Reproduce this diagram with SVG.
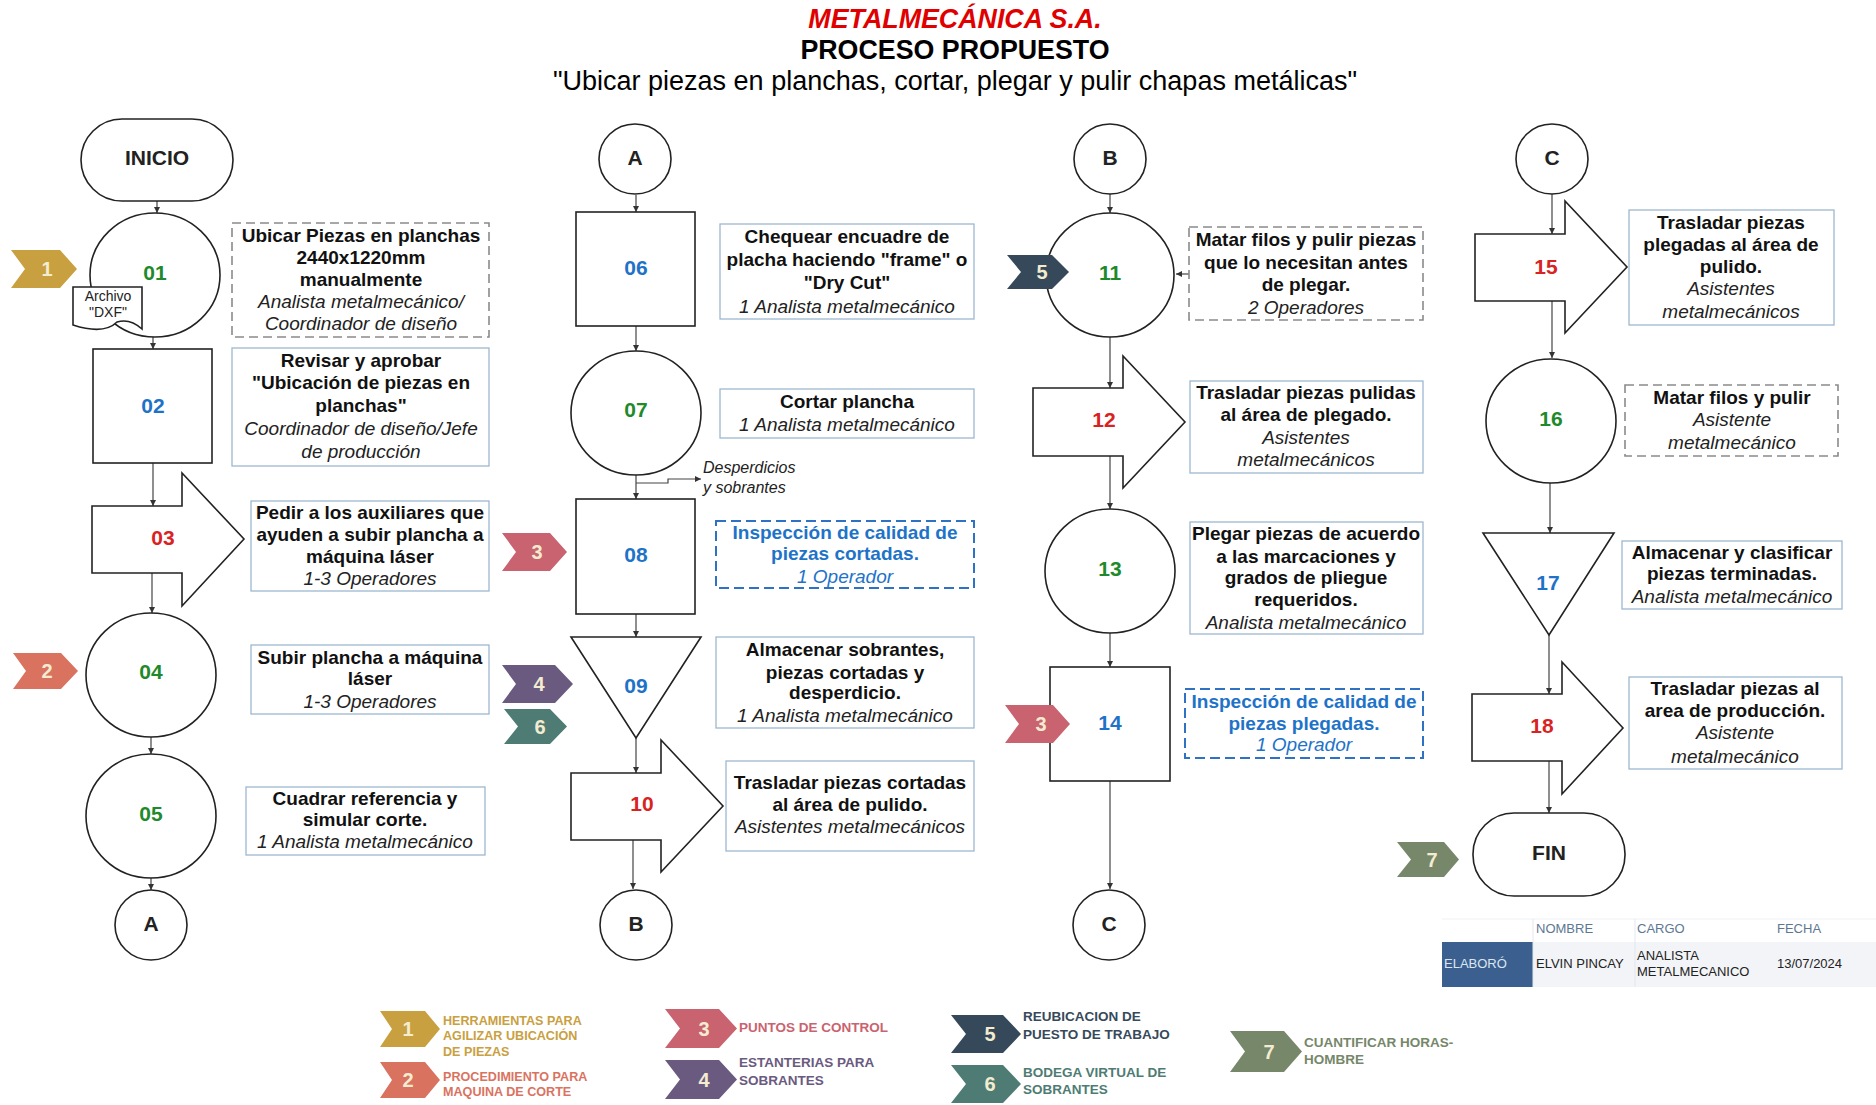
<svg xmlns="http://www.w3.org/2000/svg" width="1876" height="1105" viewBox="0 0 1876 1105">
<style>
.shape{fill:#fff;stroke:#222;stroke-width:1.6}
.num{font-family:"Liberation Sans",Arial,sans-serif;font-weight:bold;font-size:21px;text-anchor:middle;dominant-baseline:central}
.g{fill:#1f8a2b}.b{fill:#1e73c8}.r{fill:#d92323}.k{fill:#222}
.box{fill:#fff;stroke:#9db8cf;stroke-width:1.3}
.dgray{fill:#fff;stroke:#8a8a8a;stroke-width:1.6;stroke-dasharray:9 5}
.dblue{fill:#fff;stroke:#2f72c4;stroke-width:2;stroke-dasharray:10 5}
.t{font-family:"Liberation Sans",Arial,sans-serif;font-size:19px;text-anchor:middle;dominant-baseline:central;fill:#111}
.bd{font-weight:bold}
.it{font-style:italic;fill:#222}
.bl{fill:#1e73c8}
.conn{fill:none;stroke:#444;stroke-width:1.2;marker-end:url(#ah)}
.cn{font-family:"Liberation Sans",Arial,sans-serif;font-weight:bold;font-size:20px;fill:#f3ecd0;text-anchor:middle;dominant-baseline:central}
.lg{font-family:"Liberation Sans",Arial,sans-serif;font-weight:bold;font-size:13.5px;dominant-baseline:central}
.lgs{font-size:12.6px}
.tb{font-family:"Liberation Sans",Arial,sans-serif;font-size:13px;dominant-baseline:central}
</style>
<defs>
<marker id="ah" viewBox="0 0 6 6" refX="6" refY="3" markerWidth="6" markerHeight="6" markerUnits="userSpaceOnUse" orient="auto">
<path d="M0,0 L6,3 L0,6 Z" fill="#333"/>
</marker>
</defs>
<rect width="1876" height="1105" fill="#fff"/>

<!-- Title -->
<g id="title">
<text x="955" y="19" font-family="Liberation Sans,Arial,sans-serif" font-size="26.8" font-weight="bold" font-style="italic" fill="#e00000" text-anchor="middle" dominant-baseline="central">METALMECÁNICA S.A.</text>
<text x="955" y="50" font-family="Liberation Sans,Arial,sans-serif" font-size="26.8" font-weight="bold" fill="#000" text-anchor="middle" dominant-baseline="central">PROCESO PROPUESTO</text>
<text x="955" y="81" font-family="Liberation Sans,Arial,sans-serif" font-size="27" fill="#000" text-anchor="middle" dominant-baseline="central">"Ubicar piezas en planchas, cortar, plegar y pulir chapas metálicas"</text>
</g>

<!-- Connectors -->
<g id="connectors">
<path class="conn" d="M157,201 V213"/>
<path class="conn" d="M153,337 V349"/>
<path class="conn" d="M153,463 V506"/>
<path class="conn" d="M152,573 V613"/>
<path class="conn" d="M151,736 V754"/>
<path class="conn" d="M151,877 V890"/>
<path class="conn" d="M636,195 V212"/>
<path class="conn" d="M636,326 V351"/>
<path class="conn" d="M636,475 V499"/>
<path class="conn" d="M636,483 H668 V479 H701"/>
<path class="conn" d="M636,614 V637"/>
<path class="conn" d="M636,738 V773"/>
<path class="conn" d="M633,840 V889"/>
<path class="conn" d="M1110,194 V213"/>
<path class="conn" d="M1189,274 H1176"/>
<path class="conn" d="M1110,337 V388"/>
<path class="conn" d="M1110,456 V509"/>
<path class="conn" d="M1110,633 V667"/>
<path class="conn" d="M1110,781 V889"/>
<path class="conn" d="M1552,194 V234"/>
<path class="conn" d="M1552,301 V358"/>
<path class="conn" d="M1550,483 V533"/>
<path class="conn" d="M1549,635 V694"/>
<path class="conn" d="M1549,761 V813"/>
</g>

<!-- Column 1 -->
<g id="inicio">
<rect class="shape" x="81" y="119" width="152" height="82" rx="41"/>
<text class="num k" x="157" y="157">INICIO</text>
</g>
<g id="n01">
<ellipse class="shape" cx="155" cy="275" rx="65" ry="62"/>
<text class="num g" x="155" y="272">01</text>
<path class="shape" d="M73,287 H142 V329 Q130,318 117,322 Q104,335 73,325 Z" stroke-width="1.3"/>
<text x="108" y="296" font-family="Liberation Sans,Arial,sans-serif" font-size="14" fill="#222" text-anchor="middle" dominant-baseline="central">Archivo</text>
<text x="108" y="312" font-family="Liberation Sans,Arial,sans-serif" font-size="14" fill="#222" text-anchor="middle" dominant-baseline="central">"DXF"</text>
<polygon points="11,250 60,250 77,269 60,288 11,288 25,269" fill="#c9a040"/>
<text class="cn" x="47" y="269">1</text>
</g>
<g id="d01">
<rect class="dgray" x="232" y="223" width="257" height="114"/>
<text class="t bd" x="361" y="235">Ubicar Piezas en planchas</text>
<text class="t bd" x="361" y="257">2440x1220mm</text>
<text class="t bd" x="361" y="279">manualmente</text>
<text class="t it" x="361" y="301">Analista metalmecánico/</text>
<text class="t it" x="361" y="323">Coordinador de diseño</text>
</g>
<g id="n02">
<rect class="shape" x="93" y="349" width="119" height="114"/>
<text class="num b" x="153" y="405">02</text>
</g>
<g id="d02">
<rect class="box" x="232" y="348" width="257" height="118"/>
<text class="t bd" x="361" y="360">Revisar y aprobar</text>
<text class="t bd" x="361" y="382">"Ubicación de piezas en</text>
<text class="t bd" x="361" y="405">planchas"</text>
<text class="t it" x="361" y="428">Coordinador de diseño/Jefe</text>
<text class="t it" x="361" y="451">de producción</text>
</g>
<g id="n03">
<polygon class="shape" points="92,506 182,506 182,473 244,539 182,606 182,573 92,573"/>
<text class="num r" x="163" y="537">03</text>
</g>
<g id="d03">
<rect class="box" x="251" y="501" width="238" height="90"/>
<text class="t bd" x="370" y="512">Pedir a los auxiliares que</text>
<text class="t bd" x="370" y="534">ayuden a subir plancha a</text>
<text class="t bd" x="370" y="556">máquina láser</text>
<text class="t it" x="370" y="578">1-3 Operadores</text>
</g>
<g id="n04">
<ellipse class="shape" cx="151" cy="675" rx="65" ry="62"/>
<text class="num g" x="151" y="671">04</text>
<polygon points="13,653 61,653 78,671 61,689 13,689 26,671" fill="#d9735f"/>
<text class="cn" x="47" y="671">2</text>
</g>
<g id="d04">
<rect class="box" x="251" y="645" width="238" height="69"/>
<text class="t bd" x="370" y="657">Subir plancha a máquina</text>
<text class="t bd" x="370" y="678">láser</text>
<text class="t it" x="370" y="701">1-3 Operadores</text>
</g>
<g id="n05">
<ellipse class="shape" cx="151" cy="816" rx="65" ry="62"/>
<text class="num g" x="151" y="813">05</text>
</g>
<g id="d05">
<rect class="box" x="246" y="787" width="239" height="68"/>
<text class="t bd" x="365" y="798">Cuadrar referencia y</text>
<text class="t bd" x="365" y="819">simular corte.</text>
<text class="t it" x="365" y="841">1 Analista metalmecánico</text>
</g>
<g id="a_out">
<ellipse class="shape" cx="151" cy="925" rx="36" ry="35"/>
<text class="num k" x="151" y="923">A</text>
</g>

<!-- Column 2 -->
<g id="a_in">
<ellipse class="shape" cx="635" cy="159" rx="36" ry="35"/>
<text class="num k" x="635" y="157">A</text>
</g>
<g id="n06">
<rect class="shape" x="576" y="212" width="119" height="114"/>
<text class="num b" x="636" y="267">06</text>
</g>
<g id="d06">
<rect class="box" x="720" y="224" width="254" height="95"/>
<text class="t bd" x="847" y="236">Chequear encuadre de</text>
<text class="t bd" x="847" y="259">placha haciendo "frame" o</text>
<text class="t bd" x="847" y="282">"Dry Cut"</text>
<text class="t it" x="847" y="306">1 Analista metalmecánico</text>
</g>
<g id="n07">
<ellipse class="shape" cx="636" cy="413" rx="65" ry="62"/>
<text class="num g" x="636" y="409">07</text>
<text x="703" y="467" font-family="Liberation Sans,Arial,sans-serif" font-size="16" font-style="italic" fill="#222" dominant-baseline="central">Desperdicios</text>
<text x="703" y="487" font-family="Liberation Sans,Arial,sans-serif" font-size="16" font-style="italic" fill="#222" dominant-baseline="central">y sobrantes</text>
</g>
<g id="d07">
<rect class="box" x="720" y="389" width="254" height="49"/>
<text class="t bd" x="847" y="401">Cortar plancha</text>
<text class="t it" x="847" y="424">1 Analista metalmecánico</text>
</g>
<g id="n08">
<rect class="shape" x="576" y="499" width="119" height="115"/>
<text class="num b" x="636" y="554">08</text>
<polygon points="502,533 550,533 567,552 550,571 502,571 516,552" fill="#c9636f"/>
<text class="cn" x="537" y="552">3</text>
</g>
<g id="d08">
<rect class="dblue" x="716" y="521" width="258" height="67"/>
<text class="t bd bl" x="845" y="532">Inspección de calidad de</text>
<text class="t bd bl" x="845" y="553">piezas cortadas.</text>
<text class="t it bl" x="845" y="576">1 Operador</text>
</g>
<g id="n09">
<polygon class="shape" points="571,637 701,637 636,738"/>
<text class="num b" x="636" y="685">09</text>
<polygon points="502,665 555,665 573,684 555,703 502,703 516,684" fill="#6a5a80"/>
<text class="cn" x="539" y="684">4</text>
<polygon points="504,709 550,709 567,726.5 550,744 504,744 518,726.5" fill="#4e7c74"/>
<text class="cn" x="540" y="726.5">6</text>
</g>
<g id="d09">
<rect class="box" x="716" y="637" width="258" height="91"/>
<text class="t bd" x="845" y="649">Almacenar sobrantes,</text>
<text class="t bd" x="845" y="672">piezas cortadas y</text>
<text class="t bd" x="845" y="692">desperdicio.</text>
<text class="t it" x="845" y="715">1 Analista metalmecánico</text>
</g>
<g id="n10">
<polygon class="shape" points="571,773 661,773 661,740 723,806 661,872 661,840 571,840"/>
<text class="num r" x="642" y="803">10</text>
</g>
<g id="d10">
<rect class="box" x="726" y="761" width="248" height="90"/>
<text class="t bd" x="850" y="782">Trasladar piezas cortadas</text>
<text class="t bd" x="850" y="804">al área de pulido.</text>
<text class="t it" x="850" y="826">Asistentes metalmecánicos</text>
</g>
<g id="b_out">
<ellipse class="shape" cx="636" cy="925" rx="36" ry="35"/>
<text class="num k" x="636" y="923">B</text>
</g>

<!-- Column 3 -->
<g id="b_in">
<ellipse class="shape" cx="1110" cy="159" rx="36" ry="35"/>
<text class="num k" x="1110" y="157">B</text>
</g>
<g id="n11">
<ellipse class="shape" cx="1110" cy="275" rx="64" ry="62"/>
<text class="num g" x="1110" y="272">11</text>
<polygon points="1007,255 1052,255 1069,272 1052,289 1007,289 1021,272" fill="#36495a"/>
<text class="cn" x="1042" y="272">5</text>
</g>
<g id="d11">
<rect class="dgray" x="1189" y="227" width="234" height="93"/>
<text class="t bd" x="1306" y="239">Matar filos y pulir piezas</text>
<text class="t bd" x="1306" y="262">que lo necesitan antes</text>
<text class="t bd" x="1306" y="284">de plegar.</text>
<text class="t it" x="1306" y="307">2 Operadores</text>
</g>
<g id="n12">
<polygon class="shape" points="1033,388 1123,388 1123,356 1185,422 1123,488 1123,456 1033,456"/>
<text class="num r" x="1104" y="419">12</text>
</g>
<g id="d12">
<rect class="box" x="1190" y="381" width="233" height="92"/>
<text class="t bd" x="1306" y="392">Trasladar piezas pulidas</text>
<text class="t bd" x="1306" y="414">al área de plegado.</text>
<text class="t it" x="1306" y="437">Asistentes</text>
<text class="t it" x="1306" y="459">metalmecánicos</text>
</g>
<g id="n13">
<ellipse class="shape" cx="1110" cy="571" rx="65" ry="62"/>
<text class="num g" x="1110" y="568">13</text>
</g>
<g id="d13">
<rect class="box" x="1190" y="522" width="233" height="112"/>
<text class="t bd" x="1306" y="533">Plegar piezas de acuerdo</text>
<text class="t bd" x="1306" y="556">a las marcaciones y</text>
<text class="t bd" x="1306" y="577">grados de pliegue</text>
<text class="t bd" x="1306" y="599">requeridos.</text>
<text class="t it" x="1306" y="622">Analista metalmecánico</text>
</g>
<g id="n14">
<rect class="shape" x="1050" y="667" width="120" height="114"/>
<text class="num b" x="1110" y="722">14</text>
<polygon points="1005,705 1053,705 1070,724 1053,743 1005,743 1019,724" fill="#c9636f"/>
<text class="cn" x="1041" y="724">3</text>
</g>
<g id="d14">
<rect class="dblue" x="1185" y="689" width="238" height="69"/>
<text class="t bd bl" x="1304" y="701">Inspección de calidad de</text>
<text class="t bd bl" x="1304" y="723">piezas plegadas.</text>
<text class="t it bl" x="1304" y="744">1 Operador</text>
</g>
<g id="c_out">
<ellipse class="shape" cx="1109" cy="925" rx="36" ry="35"/>
<text class="num k" x="1109" y="923">C</text>
</g>

<!-- Column 4 -->
<g id="c_in">
<ellipse class="shape" cx="1552" cy="159" rx="36" ry="35"/>
<text class="num k" x="1552" y="157">C</text>
</g>
<g id="n15">
<polygon class="shape" points="1475,234 1565,234 1565,201 1627,267 1565,333 1565,301 1475,301"/>
<text class="num r" x="1546" y="266">15</text>
</g>
<g id="d15">
<rect class="box" x="1629" y="210" width="205" height="115"/>
<text class="t bd" x="1731" y="222">Trasladar piezas</text>
<text class="t bd" x="1731" y="244">plegadas al área de</text>
<text class="t bd" x="1731" y="266">pulido.</text>
<text class="t it" x="1731" y="288">Asistentes</text>
<text class="t it" x="1731" y="311">metalmecánicos</text>
</g>
<g id="n16">
<ellipse class="shape" cx="1551" cy="421" rx="65" ry="62"/>
<text class="num g" x="1551" y="418">16</text>
</g>
<g id="d16">
<rect class="dgray" x="1625" y="385" width="213" height="71"/>
<text class="t bd" x="1732" y="397">Matar filos y pulir</text>
<text class="t it" x="1732" y="419">Asistente</text>
<text class="t it" x="1732" y="442">metalmecánico</text>
</g>
<g id="n17">
<polygon class="shape" points="1483,533 1614,533 1549,635"/>
<text class="num b" x="1548" y="582">17</text>
</g>
<g id="d17">
<rect class="box" x="1622" y="541" width="220" height="68"/>
<text class="t bd" x="1732" y="552">Almacenar y clasificar</text>
<text class="t bd" x="1732" y="573">piezas terminadas.</text>
<text class="t it" x="1732" y="596">Analista metalmecánico</text>
</g>
<g id="n18">
<polygon class="shape" points="1472,694 1562,694 1562,662 1623,728 1562,794 1562,761 1472,761"/>
<text class="num r" x="1542" y="725">18</text>
</g>
<g id="d18">
<rect class="box" x="1629" y="677" width="213" height="92"/>
<text class="t bd" x="1735" y="688">Trasladar piezas al</text>
<text class="t bd" x="1735" y="710">area de producción.</text>
<text class="t it" x="1735" y="732">Asistente</text>
<text class="t it" x="1735" y="756">metalmecánico</text>
</g>
<g id="fin">
<rect class="shape" x="1473" y="813" width="152" height="83" rx="41"/>
<text class="num k" x="1549" y="852">FIN</text>
<polygon points="1397,842 1444,842 1459,859.5 1444,877 1397,877 1411,859.5" fill="#76876a"/>
<text class="cn" x="1432" y="859.5">7</text>
</g>

<!-- Table -->
<g id="table">
<rect x="1442" y="919" width="434" height="23" fill="#fff"/>
<line x1="1442" y1="919" x2="1876" y2="919" stroke="#eef1f4"/>
<rect x="1533" y="942" width="343" height="45" fill="#f2f4f7"/>
<rect x="1442" y="942" width="91" height="45" fill="#3b6090"/>
<line x1="1533" y1="919" x2="1533" y2="987" stroke="#e3e7ec"/>
<line x1="1635" y1="919" x2="1635" y2="987" stroke="#e3e7ec"/>
<text class="tb" x="1536" y="928" fill="#5d7793">NOMBRE</text>
<text class="tb" x="1637" y="928" fill="#5d7793">CARGO</text>
<text class="tb" x="1777" y="928" fill="#5d7793">FECHA</text>
<text class="tb" x="1444" y="963" fill="#dce6f0">ELABORÓ</text>
<text class="tb" x="1536" y="963" fill="#222">ELVIN PINCAY</text>
<text class="tb" x="1637" y="955" fill="#222">ANALISTA</text>
<text class="tb" x="1637" y="971" fill="#222">METALMECANICO</text>
<text class="tb" x="1777" y="963" fill="#222">13/07/2024</text>
</g>

<!-- Legend -->
<g id="legend">
<polygon points="380,1011 425,1011 440,1029 425,1047 380,1047 392,1029" fill="#c9a040"/>
<text class="cn" x="408" y="1029">1</text>
<text class="lg lgs" x="443" y="1021" fill="#c9a040">HERRAMIENTAS PARA</text>
<text class="lg lgs" x="443" y="1036" fill="#c9a040">AGILIZAR UBICACIÓN</text>
<text class="lg lgs" x="443" y="1052" fill="#c9a040">DE PIEZAS</text>

<polygon points="380,1062 425,1062 440,1080 425,1098 380,1098 392,1080" fill="#d9735f"/>
<text class="cn" x="408" y="1080">2</text>
<text class="lg lgs" x="443" y="1077" fill="#d9735f">PROCEDIMIENTO PARA</text>
<text class="lg lgs" x="443" y="1092" fill="#d9735f">MAQUINA DE CORTE</text>

<polygon points="665,1009 719,1009 737,1028.5 719,1048 665,1048 680,1028.5" fill="#c9636f"/>
<text class="cn" x="704" y="1028.5">3</text>
<text class="lg" x="739" y="1027" fill="#c9636f">PUNTOS DE CONTROL</text>

<polygon points="665,1060 719,1060 737,1079.5 719,1099 665,1099 680,1079.5" fill="#6a5a80"/>
<text class="cn" x="704" y="1079.5">4</text>
<text class="lg" x="739" y="1062" fill="#6a5a80">ESTANTERIAS PARA</text>
<text class="lg" x="739" y="1080" fill="#6a5a80">SOBRANTES</text>

<polygon points="951,1015 1003,1015 1021,1034 1003,1053 951,1053 966,1034" fill="#36495a"/>
<text class="cn" x="990" y="1034">5</text>
<text class="lg" x="1023" y="1016" fill="#36495a">REUBICACION DE</text>
<text class="lg" x="1023" y="1034" fill="#36495a">PUESTO DE TRABAJO</text>

<polygon points="951,1065 1003,1065 1021,1084 1003,1103 951,1103 966,1084" fill="#4e7c74"/>
<text class="cn" x="990" y="1084">6</text>
<text class="lg" x="1023" y="1072" fill="#4e7c74">BODEGA VIRTUAL DE</text>
<text class="lg" x="1023" y="1089" fill="#4e7c74">SOBRANTES</text>

<polygon points="1230,1031 1284,1031 1302,1051.5 1284,1072 1230,1072 1245,1051.5" fill="#76876a"/>
<text class="cn" x="1269" y="1051.5">7</text>
<text class="lg" x="1304" y="1042" fill="#76876a">CUANTIFICAR HORAS-</text>
<text class="lg" x="1304" y="1059" fill="#76876a">HOMBRE</text>
</g>
</svg>
